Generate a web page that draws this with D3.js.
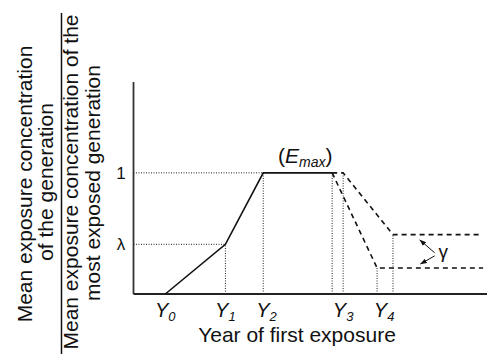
<!DOCTYPE html>
<html>
<head>
<meta charset="utf-8">
<script src="https://cdn.jsdelivr.net/npm/d3@7"></script>
<style>
  body { margin: 0; background: #fff; }
  text { font-family: "Liberation Sans", Arial, sans-serif; fill: #111; }
</style>
</head>
<body>
<div id="chart"></div>
<script>
// schematic values (x in arbitrary year units, y relative to the max)
var yearLabels = ["0", "1", "2", "3", "4"];
var yearLabelPos = [9, 26, 37.6, 59.3, 70.9];
var lambda = 0.41;
var rise = [[9, 0], [26, lambda], [36.7, 1], [56.2, 1]];
var dropUpper = [[56.2, 1], [59.3, 1], [73.4, 0.49], [98, 0.49]];
var dropLower = [[56.2, 1], [68.9, 0.215], [98.9, 0.215]];
var guideV = [[26, lambda], [36.7, 1], [56.2, 1], [59.3, 1], [68.9, 0.215], [73.4, 0.49]];
var guideH = [[36.7, 1, "1"], [26, lambda, "\u03bb"]];
var gammaArrows = [[[85.2, 0.34], [81.0, 0.446]], [[85.2, 0.315], [81.2, 0.248]]];

var W = 487, H = 354;
var svg = d3.select("#chart").append("svg")
  .attr("width", W).attr("height", H);

var x = d3.scaleLinear().domain([0, 100]).range([133.5, 487]);
var y = d3.scaleLinear().domain([0, 1.75]).range([294, 82]);

// arrow marker
svg.append("defs").append("marker")
  .attr("id", "arr").attr("viewBox", "0 0 10 10")
  .attr("refX", 9).attr("refY", 5)
  .attr("markerWidth", 7).attr("markerHeight", 7)
  .attr("orient", "auto-start-reverse")
  .append("path").attr("d", "M0,1.5L10,5L0,8.5z").attr("fill", "#111");

var line = d3.line().x(function (d) { return x(d[0]); }).y(function (d) { return y(d[1]); });

// dotted guides
svg.selectAll(".gv").data(guideV).enter().append("line")
  .attr("x1", function (d) { return x(d[0]); }).attr("x2", function (d) { return x(d[0]); })
  .attr("y1", y(0)).attr("y2", function (d) { return y(d[1]); })
  .attr("stroke", "#222").attr("stroke-width", 1).attr("stroke-dasharray", "1,1.5");
svg.selectAll(".gh").data(guideH).enter().append("line")
  .attr("x1", x(0)).attr("x2", function (d) { return x(d[0]); })
  .attr("y1", function (d) { return y(d[1]); }).attr("y2", function (d) { return y(d[1]); })
  .attr("stroke", "#222").attr("stroke-width", 1).attr("stroke-dasharray", "1,1.5");
svg.selectAll(".ghl").data(guideH).enter().append("text")
  .attr("x", 121).attr("y", function (d) { return y(d[1]) + 6; })
  .attr("text-anchor", "middle").style("font-size", "17px")
  .text(function (d) { return d[2]; });

// axes
svg.append("line").attr("x1", x(0)).attr("x2", x(0)).attr("y1", y(1.75)).attr("y2", y(0))
  .attr("stroke", "#333").attr("stroke-width", 1.8);
svg.append("line").attr("x1", x(0)).attr("x2", W).attr("y1", y(0)).attr("y2", y(0))
  .attr("stroke", "#222").attr("stroke-width", 1.8);

// curves
svg.append("path").attr("d", line(rise)).attr("fill", "none")
  .attr("stroke", "#111").attr("stroke-width", 1.6);
[dropUpper, dropLower].forEach(function (s) {
  svg.append("path").attr("d", line(s)).attr("fill", "none")
    .attr("stroke", "#111").attr("stroke-width", 1.6).attr("stroke-dasharray", "5,4");
});

// gamma arrows
gammaArrows.forEach(function (a) {
  svg.append("path").attr("d", line(a)).attr("stroke", "#111")
    .attr("stroke-width", 1).attr("marker-end", "url(#arr)");
});
svg.append("text").attr("x", 438.5).attr("y", 258)
  .style("font-size", "19px").text("\u03b3");

// Emax label
var em = svg.append("text").attr("x", x(48.6)).attr("y", 163)
  .attr("text-anchor", "middle").style("font-size", "21px");
em.append("tspan").text("(");
em.append("tspan").style("font-style", "italic").text("E");
em.append("tspan").style("font-style", "italic").style("font-size", "14px").attr("dy", 4).text("max");
em.append("tspan").attr("dy", -4).text(")");

// year tick labels
svg.selectAll(".yl").data(yearLabels).enter().append("text")
  .attr("x", function (d, i) { return x(yearLabelPos[i]); }).attr("y", 317)
  .attr("text-anchor", "middle").style("font-size", "20px").style("font-style", "italic")
  .each(function (d) {
    var t = d3.select(this);
    t.append("tspan").text("Y");
    t.append("tspan").style("font-size", "13px").attr("dy", 4).text(d);
  });

svg.append("text").attr("x", 297).attr("y", 342).attr("text-anchor", "middle")
  .style("font-size", "21px").text("Year of first exposure");

// y title as a fraction
var num = ["Mean exposure concentration", "of the generation"];
var den = ["Mean exposure concentration of the", "most exposed generation"];
function vText(str, bx, cy) {
  svg.append("text").attr("transform", "translate(" + bx + "," + cy + ") rotate(-90)")
    .attr("text-anchor", "middle").style("font-size", "21px")
    .text(str);
}
vText(num[0], 32, 184);
vText(num[1], 53, 182);
svg.append("line").attr("x1", 61.5).attr("x2", 61.5).attr("y1", 13).attr("y2", H)
  .attr("stroke", "#111").attr("stroke-width", 1.5);
vText(den[0], 78, 182);
vText(den[1], 100, 183);
</script>
</body>
</html>
